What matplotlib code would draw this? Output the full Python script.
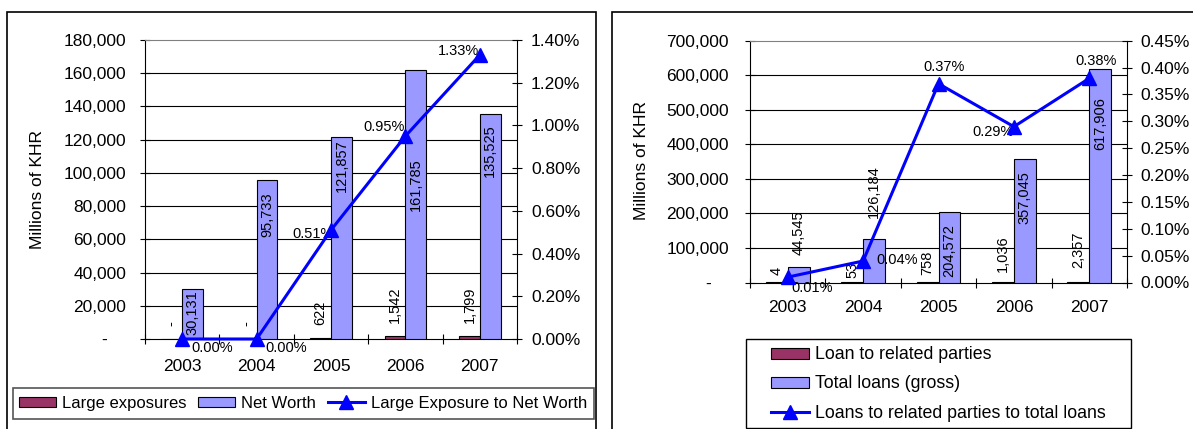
import matplotlib
matplotlib.use('Agg')
import matplotlib.pyplot as plt
from matplotlib.patches import Rectangle, Patch
from matplotlib.lines import Line2D
from matplotlib.ticker import FuncFormatter
import numpy as np

plt.rcParams['font.family'] = ['Liberation Sans', 'DejaVu Sans']

# ---------------- data ----------------
years = ['2003', '2004', '2005', '2006', '2007']

large_exposures = [0, 0, 622, 1542, 1799]
net_worth = [30131, 95733, 121857, 161785, 135525]
le_to_nw_pct = [0.00, 0.00, 0.51, 0.95, 1.33]

loans_related = [4, 53, 758, 1036, 2357]
total_loans = [44545, 126184, 204572, 357045, 617906]
related_to_total_pct = [0.01, 0.04, 0.37, 0.29, 0.38]

left_legend = ['Large exposures', 'Net Worth', 'Large Exposure to Net Worth']
right_legend = ['Loan to related parties', 'Total loans (gross)',
                'Loans to related parties to total loans']
ylabel = 'Millions of KHR'

# ---------------- style ----------------
W, H, DPI = 1193, 429, 100
BAR_DARK = '#993366'
BAR_LIGHT = '#9999FF'
LINE = '#0000FF'
TICK_FS = 12.5
LAB_FS = 10.5

fig = plt.figure(figsize=(W / DPI, H / DPI), dpi=DPI)


def rect_px(x0, y0, x1, y1):
    return [x0 / W, 1 - y1 / H, (x1 - x0) / W, (y1 - y0) / H]


def draw_panel(rect, cats, s1, s2, ratio, ymax, ystep, rmax, rstep, bw,
               ypad, rpad, xpad, dash_dx, s1_offs, s2_offs, ratio_offs):
    ax = fig.add_axes(rect)
    x = np.arange(len(cats))
    ax.bar(x - bw / 2, s1, bw, color=BAR_DARK, edgecolor='black',
           linewidth=0.8, zorder=3)
    ax.bar(x + bw / 2, s2, bw, color=BAR_LIGHT, edgecolor='black',
           linewidth=0.8, zorder=3)
    ax.set_xlim(-0.5, len(cats) - 0.5)
    ax.set_ylim(0, ymax)
    yt = np.arange(0, ymax + ystep / 2, ystep)
    ax.set_yticks(yt)
    ax.yaxis.set_major_formatter(
        FuncFormatter(lambda v, p: '' if v == 0 else f'{v:,.0f}'))
    for v in yt[1:-1]:
        ax.axhline(v, color='black', lw=0.8, zorder=1)
    ax.set_xticks(x, cats)
    ax.set_xticks(np.arange(-0.5, len(cats)), minor=True)
    ax.tick_params(axis='x', which='major', length=0, pad=xpad,
                   labelsize=TICK_FS)
    ax.tick_params(axis='x', which='minor', direction='inout', length=7,
                   width=0.8)
    ax.tick_params(axis='y', direction='inout', length=7.5, width=0.8,
                   pad=ypad, labelsize=TICK_FS)
    ax.spines['top'].set_color('#808080')
    ax.spines['right'].set_visible(False)
    for s in ['left', 'bottom', 'top']:
        ax.spines[s].set_linewidth(0.8)
    ax.annotate('-', xy=(0, 0), xycoords=('axes fraction', 'data'),
                xytext=(dash_dx, 0), textcoords='offset pixels',
                ha='right', va='center_baseline', fontsize=TICK_FS)

    for xi, v, off in zip(x, s1, s1_offs):
        txt = '-' if v == 0 else f'{v:,}'
        ax.annotate(txt, xy=(xi - bw / 2, v), xytext=(0, off),
                    textcoords='offset pixels', rotation=90, ha='center',
                    va='bottom' if off >= 0 else 'top', fontsize=LAB_FS,
                    zorder=5)
    for xi, v, off in zip(x, s2, s2_offs):
        ax.annotate(f'{v:,}', xy=(xi + bw / 2, v), xytext=(0, off),
                    textcoords='offset pixels', rotation=90, ha='center',
                    va='bottom' if off >= 0 else 'top', fontsize=LAB_FS,
                    zorder=5)

    axr = ax.twinx()
    axr.set_ylim(0, rmax)
    rt = np.arange(0, rmax + rstep / 2, rstep)
    axr.set_yticks(rt)
    axr.yaxis.set_major_formatter(FuncFormatter(lambda v, p: f'{v:.2f}%'))
    axr.tick_params(axis='y', direction='inout', length=7.5, width=0.8,
                    pad=rpad, labelsize=TICK_FS)
    for s in ['left', 'top', 'bottom']:
        axr.spines[s].set_visible(False)
    axr.spines['right'].set_linewidth(0.8)
    axr.plot(x, ratio, color=LINE, lw=2.2, marker='^', ms=10,
             clip_on=False, zorder=5)
    for xi, v, (dx, dy) in zip(x, ratio, ratio_offs):
        axr.annotate(f'{v:.2f}%', xy=(xi, v), xytext=(dx, dy),
                     textcoords='offset pixels', ha='center', va='center',
                     fontsize=LAB_FS)
    return ax, axr


# ---------------- left panel ----------------
draw_panel(rect_px(145, 40, 517, 339), years, large_exposures, net_worth,
           le_to_nw_pct, 180000, 20000, 1.4, 0.2, 0.28,
           ypad=9.9, rpad=6.3, xpad=14.4, dash_dx=-38,
           s1_offs=[13, 13, 13, 13, 13],
           s2_offs=[-1, -12, -3, -88, -10],
           ratio_offs=[(30, -9), (30, -9), (-18, -4), (-21, 9), (-21, 4)])

# ---------------- right panel ----------------
draw_panel(rect_px(750, 40.7, 1127, 282.5), years, loans_related, total_loans,
           related_to_total_pct, 700000, 100000, 0.45, 0.05, 0.29,
           ypad=11.3, rpad=5.6, xpad=12.6, dash_dx=-39,
           s1_offs=[7, 4, 7, 10, 14],
           s2_offs=[12, 21, -12, -12, -28],
           ratio_offs=[(24, -11), (34, 1), (6, 17), (-21, -5), (7, 17)])

# y labels
fig.text(38 / W, 1 - 189 / H, ylabel, rotation=90, ha='center', va='center',
         fontsize=12.5)
fig.text(642 / W, 1 - 161 / H, ylabel, rotation=90, ha='center', va='center',
         fontsize=12.5)

# outer frames
fig.add_artist(Rectangle((7.3 / W, -0.05), (595.7 - 7.3) / W,
                         1.05 - 11.7 / H, transform=fig.transFigure,
                         fill=False, edgecolor='black', lw=1.2))
fig.add_artist(Rectangle((611.7 / W, -0.05), 0.6, 1.05 - 11.7 / H,
                         transform=fig.transFigure, fill=False,
                         edgecolor='black', lw=1.2))

# legend frames
fig.add_artist(Rectangle((13 / W, 1 - 419 / H), (594 - 13) / W, 31 / H,
                         transform=fig.transFigure, fill=False,
                         edgecolor='#555555', lw=1.2))
fig.add_artist(Rectangle((746 / W, 1 - 428 / H), (1131 - 746) / W, 89 / H,
                         transform=fig.transFigure, fill=False,
                         edgecolor='black', lw=1.0))


def handles():
    return [Patch(facecolor=BAR_DARK, edgecolor='black', lw=0.8),
            Patch(facecolor=BAR_LIGHT, edgecolor='black', lw=0.8),
            Line2D([], [], color=LINE, lw=2.2, marker='^', ms=10)]


fig.legend(handles(), left_legend, loc='center',
           bbox_to_anchor=(303 / W, 1 - 403.5 / H), ncol=3, frameon=False,
           fontsize=12, handlelength=2.2, handleheight=0.6,
           handletextpad=0.36, columnspacing=0.72, borderpad=0,
           borderaxespad=0)
fig.legend(handles(), right_legend, loc='center left',
           bbox_to_anchor=(771 / W, 1 - 384 / H), ncol=1, frameon=False,
           fontsize=12.8, handlelength=2.15, handleheight=0.6,
           handletextpad=0.34, labelspacing=0.68, borderpad=0,
           borderaxespad=0)

fig.savefig('out.png', dpi=DPI)
